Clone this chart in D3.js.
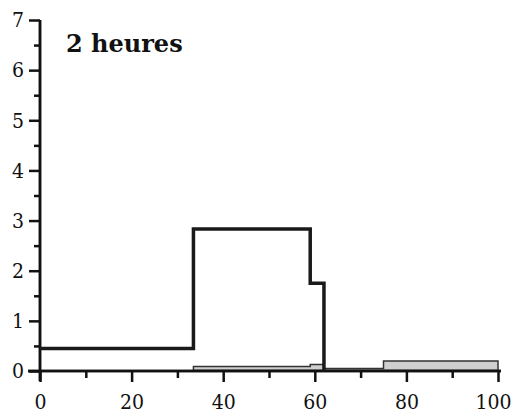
<!DOCTYPE html>
<html lang="fr">
<head>
  <meta charset="UTF-8">
  <title>2 heures</title>
  <script src="https://d3js.org/d3.v7.min.js"></script>
  <style>
    body { margin: 0; background: #fff; }
    svg { display: block; }
  </style>
</head>
<body>
  <svg width="518" height="419"></svg>
  <script>
  // step edges (x) and step heights
  const blackX = [0, 33.5, 59, 62];
  const blackY = [0.45, 2.83, 1.75, 0];
  const greyX = [33.5, 59, 62, 75, 100];
  const greyY = [0.09, 0.13, 0.05, 0.2, 0.2];
  const xTicks = [0, 20, 40, 60, 80, 100];
  const yTicks = [0, 1, 2, 3, 4, 5, 6, 7];
  const title = "2 heures";

  const svg = d3.select("svg");
  const x = d3.scaleLinear().domain([0, 100]).range([40, 498]);
  const y = d3.scaleLinear().domain([0, 7]).range([371, 20]);

  // grey series: light band outlined in dark
  const greyPts = greyX.map((v, i) => [v, greyY[i]]);
  svg.append("path")
    .datum(greyPts)
    .attr("fill", "#cfcfcf")
    .attr("stroke", "#333")
    .attr("stroke-width", 1.5)
    .attr("d", d3.area().curve(d3.curveStepAfter)
      .x(d => x(d[0])).y0(y(0.01)).y1(d => y(d[1])));

  // axes
  const xAxis = svg.append("g")
    .attr("transform", `translate(0,${y(0)})`)
    .call(d3.axisBottom(x).tickValues(xTicks).tickSize(11).tickPadding(12).tickFormat(d3.format("d")));
  xAxis.selectAll(".tick").filter(d => d === 100).select("text").attr("dx", -5);
  svg.append("g")
    .attr("transform", `translate(0,${y(0)})`)
    .call(d3.axisBottom(x).tickValues(d3.range(10, 100, 20)).tickSize(7).tickFormat(""));

  svg.append("g")
    .attr("transform", `translate(${x(0)},0)`)
    .call(d3.axisLeft(y).tickValues(yTicks).tickSize(11).tickPadding(5).tickFormat(d3.format("d")));
  svg.append("g")
    .attr("transform", `translate(${x(0)},0)`)
    .call(d3.axisLeft(y).tickValues(d3.range(0.5, 7, 1)).tickSize(6).tickFormat(""));

  svg.selectAll("g").attr("font-family", null).attr("font-size", null);
  svg.selectAll(".tick text")
    .attr("font-family", "DejaVu Serif")
    .attr("font-stretch", "condensed")
    .attr("font-size", 21)
    .attr("fill", "#111");
  svg.selectAll(".domain").attr("stroke", "#111").attr("stroke-width", 2.5);
  svg.selectAll(".tick line").attr("stroke", "#111").attr("stroke-width", 2.5);
  svg.selectAll(".domain").each(function () {
    const p = d3.select(this);
    const isX = p.node().parentNode.getAttribute("transform").startsWith("translate(0");
    p.attr("d", isX ? `M${x(0) - 12},0H${x(100) + 3}` : `M0,${y(0) + 10}V${y(7)}`);
  });

  // black series
  const blackPts = blackX.map((v, i) => [v, blackY[i]]);
  svg.append("path")
    .datum(blackPts)
    .attr("fill", "none")
    .attr("stroke", "#1a1a1a")
    .attr("stroke-width", 3.5)
    .attr("d", d3.line().curve(d3.curveStepAfter).x(d => x(d[0])).y(d => y(d[1])));

  svg.append("text")
    .attr("x", 66).attr("y", 52)
    .attr("font-family", "DejaVu Serif")
    .attr("font-weight", "bold")
    .attr("font-size", 24)
    .attr("fill", "#111")
    .text(title);
  </script>
</body>
</html>
